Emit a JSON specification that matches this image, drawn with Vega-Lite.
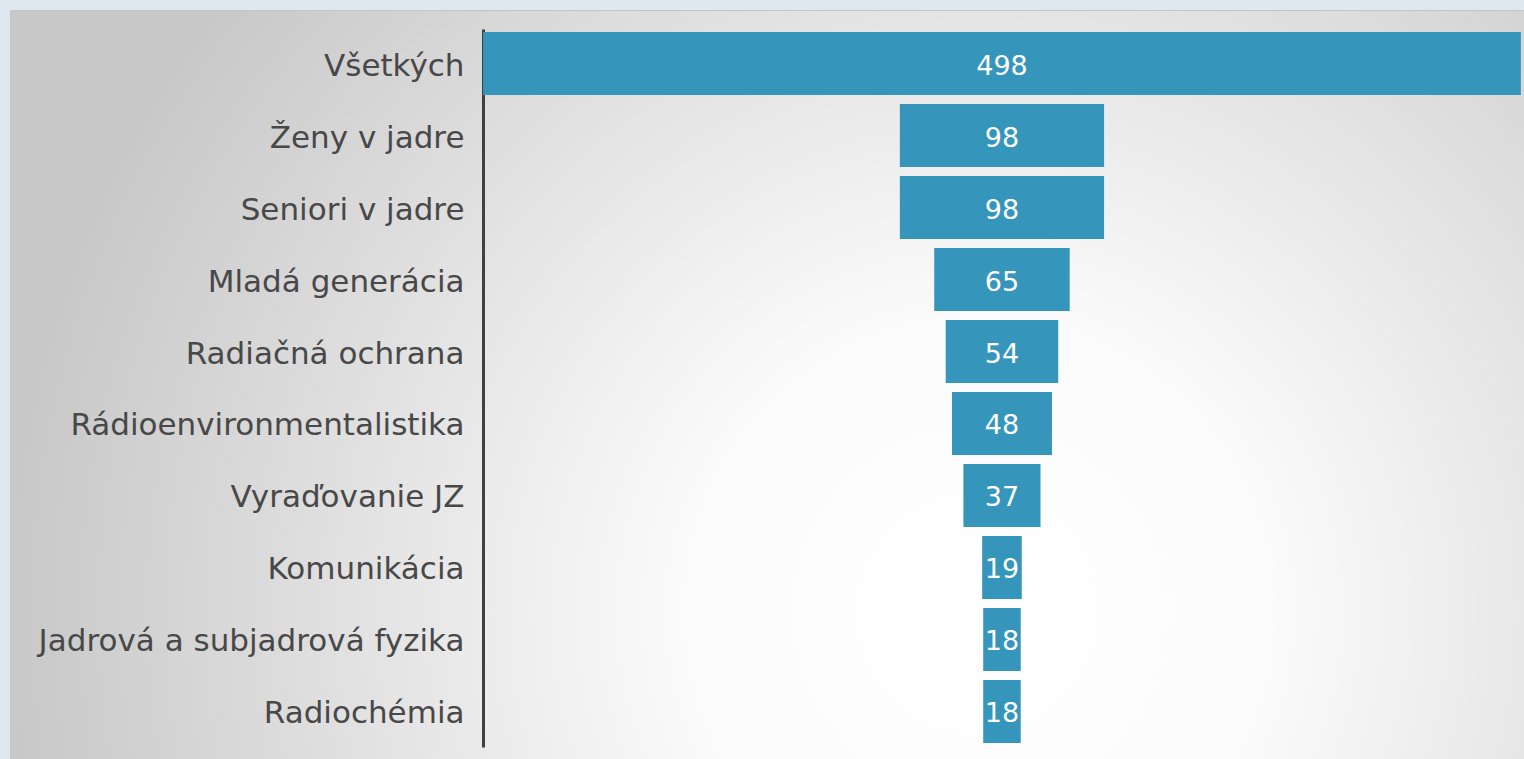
{
  "$schema": "https://vega.github.io/schema/vega-lite/v6.json",
  "autosize": "none",
  "width": 1514,
  "height": 749,
  "padding": {"left": 10, "top": 10, "right": 0, "bottom": 0},
  "background": "#dfe8f0",
  "config": {
    "view": {
      "fill": {"gradient": "radial", "x1": 0.64, "y1": 0.65, "r1": 0, "x2": 0.64, "y2": 0.65, "r2": 0.64,
        "stops": [{"offset": 0, "color": "#ffffff"}, {"offset": 0.3, "color": "#fbfbfb"}, {"offset": 1, "color": "#c8c8c8"}]},
      "stroke": "#c2c6ca",
      "strokeWidth": 1
    }
  },
  "data": {
    "values": [
      {"skupina": "Všetkých", "pocet": 498},
      {"skupina": "Ženy v jadre", "pocet": 98},
      {"skupina": "Seniori v jadre", "pocet": 98},
      {"skupina": "Mladá generácia", "pocet": 65},
      {"skupina": "Radiačná ochrana", "pocet": 54},
      {"skupina": "Rádioenvironmentalistika", "pocet": 48},
      {"skupina": "Vyraďovanie JZ", "pocet": 37},
      {"skupina": "Komunikácia", "pocet": 19},
      {"skupina": "Jadrová a subjadrová fyzika", "pocet": 18},
      {"skupina": "Radiochémia", "pocet": 18}
    ]
  },
  "encoding": {
    "y": {
      "field": "skupina", "type": "nominal", "sort": null, "title": null,
      "scale": {"range": [19, 737], "paddingInner": 0.125, "paddingOuter": 0.05, "align": 0.43},
      "axis": {
        "offset": -473, "domainColor": "#404040", "domainWidth": 3, "ticks": false,
        "labelFont": "DejaVu Sans", "labelFontSize": 31, "labelColor": "#484848",
        "labelPadding": 19, "labelLimit": 0, "labelOffset": 3, "grid": false
      }
    }
  },
  "layer": [
    {
      "mark": {"type": "bar", "color": "#3595bb"},
      "encoding": {
        "x": {"field": "pocet", "type": "quantitative", "stack": "center",
          "scale": {"domain": [-227, 499.5], "nice": false, "zero": false}, "axis": null}
      }
    },
    {
      "mark": {"type": "text", "color": "#ffffff", "font": "DejaVu Sans", "fontSize": 27, "align": "center", "baseline": "middle", "dy": 3},
      "encoding": {
        "x": {"datum": 249, "type": "quantitative"},
        "text": {"field": "pocet", "type": "quantitative"}
      }
    }
  ]
}
